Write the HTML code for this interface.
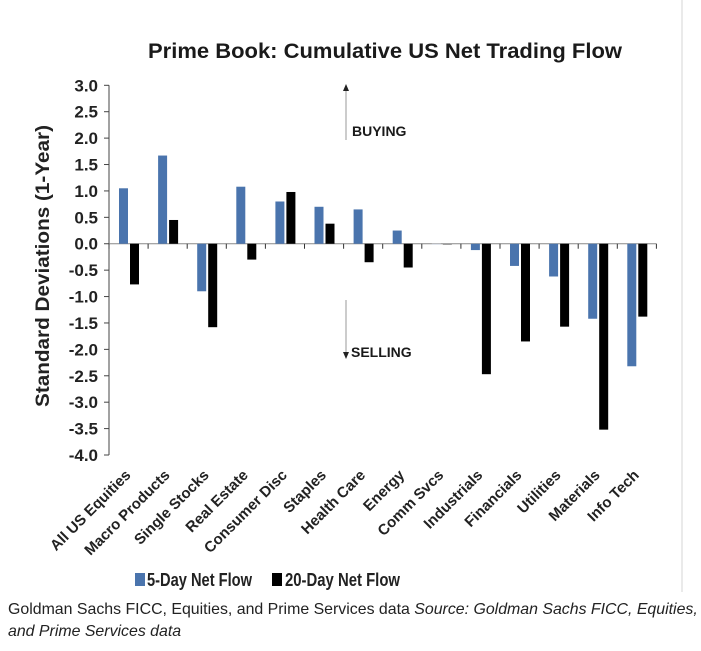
<!DOCTYPE html>
<html><head><meta charset="utf-8"><style>
body{margin:0;background:#fff;width:701px;height:646px;overflow:hidden;font-family:"Liberation Sans",sans-serif}
</style></head><body>
<svg id="chart" width="701" height="646" xmlns="http://www.w3.org/2000/svg" font-family="Liberation Sans, sans-serif">
<line x1="682" y1="0" x2="682" y2="592" stroke="#e4e4e4" stroke-width="1.5"/>
<text x="385" y="58" text-anchor="middle" font-size="21" font-weight="bold" fill="#1a1a1a" textLength="474" lengthAdjust="spacingAndGlyphs">Prime Book: Cumulative US Net Trading Flow</text>
<text transform="translate(49,266) rotate(-90)" text-anchor="middle" font-size="19" font-weight="bold" fill="#222" textLength="282" lengthAdjust="spacingAndGlyphs">Standard Deviations (1-Year)</text>
<g id="axes"></g>
<g id="bars"></g>
<line x1="346" y1="140" x2="346" y2="90" stroke="#999" stroke-width="1"/>
<polygon points="343,91 349,91 346,84" fill="#222"/>
<text x="352" y="136" font-size="14" font-weight="bold" fill="#1a1a1a">BUYING</text>
<line x1="346" y1="300" x2="346" y2="352" stroke="#999" stroke-width="1"/>
<polygon points="343,352 349,352 346,359" fill="#222"/>
<text x="351" y="357" font-size="14" font-weight="bold" fill="#1a1a1a">SELLING</text>
<g>
<rect x="135" y="573" width="10" height="13" fill="#4a74ad"/>
<text x="147" y="586" font-size="18" font-weight="bold" fill="#222" textLength="105" lengthAdjust="spacingAndGlyphs">5-Day Net Flow</text>
<rect x="272" y="573" width="10" height="13" fill="#000"/>
<text x="285" y="586" font-size="18" font-weight="bold" fill="#222" textLength="115" lengthAdjust="spacingAndGlyphs">20-Day Net Flow</text>
</g>
<text x="8" y="614" font-size="15.9" fill="#222">Goldman Sachs FICC, Equities, and Prime Services data <tspan font-style="italic">Source: Goldman Sachs FICC, Equities,</tspan></text>
<text x="8" y="636" font-size="15.9" font-style="italic" fill="#222">and Prime Services data</text>
</svg>
<script>
const categories=["All US Equities","Macro Products","Single Stocks","Real Estate","Consumer Disc","Staples","Health Care","Energy","Comm Svcs","Industrials","Financials","Utilities","Materials","Info Tech"];
const fiveDay=[1.05,1.67,-0.9,1.08,0.8,0.7,0.65,0.25,-0.02,-0.12,-0.42,-0.62,-1.42,-2.32];
const twentyDay=[-0.77,0.45,-1.58,-0.3,0.98,0.38,-0.35,-0.45,-0.02,-2.47,-1.85,-1.57,-3.52,-1.38];
const yTicks=[3.0,2.5,2.0,1.5,1.0,0.5,0.0,-0.5,-1.0,-1.5,-2.0,-2.5,-3.0,-3.5,-4.0];
const NS="http://www.w3.org/2000/svg";
const x0=109,catW=39.1,yTop=85.3,yBot=455,vMax=3,vMin=-4;
function y(v){return yTop+(vMax-v)/(vMax-vMin)*(yBot-yTop);}
function xc(i){return x0+i*catW;}
function mk(t,a,p){const e=document.createElementNS(NS,t);for(const k in a)e.setAttribute(k,a[k]);p.appendChild(e);return e;}
const axes=document.getElementById('axes'),bars=document.getElementById('bars');
const ax=mk('line',{x1:x0,y1:yTop,x2:x0,y2:yBot,stroke:'#444','stroke-width':1},axes);


yTicks.forEach(v=>{
 const t=mk('line',{x1:x0-5,y1:y(v),x2:x0,y2:y(v),stroke:'#444'},axes);
 
 
 const l=mk('text',{x:x0-11,y:y(v)+6,'text-anchor':'end','font-size':17,'font-weight':'bold',fill:'#222'},axes);
 l.textContent=v.toFixed(1);
 
 
});
const xl=mk('line',{x1:x0,y1:y(0),x2:xc(categories.length),y2:y(0),stroke:'#888','stroke-width':1},axes);


for(let i=0;i<=categories.length;i++){
 const t=mk('line',{x1:xc(i),y1:y(0),x2:xc(i),y2:y(0)+5,stroke:'#333'},axes);
 
 
}
categories.forEach((c,i)=>{
 const b1=fiveDay[i],b2=twentyDay[i];
 const r1=mk('rect',{x:xc(i)+10,y:Math.min(y(0),y(b1)),width:9,height:Math.max(1,Math.abs(y(b1)-y(0))),fill:Math.abs(b1)<0.05?'#d8dde6':'#4a74ad'},bars);
 
 
 const r2=mk('rect',{x:xc(i)+21,y:Math.min(y(0),y(b2)),width:9,height:Math.max(1,Math.abs(y(b2)-y(0))),fill:Math.abs(b2)<0.05?'#888':'#000'},bars);
 
 
 const cx=xc(i)+catW/2+3;
 const l=mk('text',{x:cx,y:476,'text-anchor':'end','font-size':15,'font-weight':'bold',fill:'#222',transform:`rotate(-45 ${cx} 476)`},axes);
 l.textContent=c;
 
 
});
</script>
</body></html>
